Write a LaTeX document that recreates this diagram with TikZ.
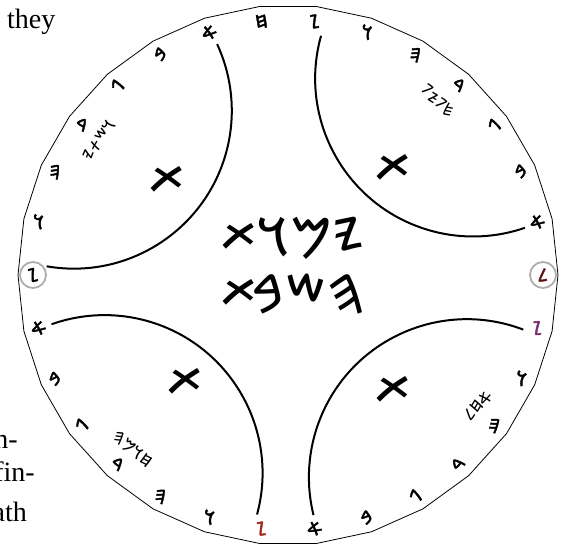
\documentclass[tikz,border=0pt]{standalone}
\usepackage{fontspec}
\usepackage{xcolor}
\usepackage{tikz}
\usetikzlibrary{calc}

\setmainfont{Liberation Serif}
\IfFontExistsTF{Noto Sans Phoenician}
    {\newfontfamily\phx{Noto Sans Phoenician}
     \newfontfamily\phxb[FakeBold=2]{Noto Sans Phoenician}}
    {\newfontfamily\phx{DejaVu Sans}
     \newfontfamily\phxb{DejaVu Sans}}
\TeXXeTstate=1

\definecolor{vongxam}{HTML}{ADADAD}
\definecolor{dogach}{HTML}{A3281C}
\definecolor{timsam}{HTML}{7B2D6E}
\definecolor{naudo}{HTML}{5A1414}

% Chữ taw xoay nghiêng cho giống dấu X
\newcommand{\tawx}{\rotatebox[origin=c]{-40}{𐤕}}

\begin{document}
\begin{tikzpicture}[x=1pt, y=1pt,
    chu/.style={font=\phxb\fontsize{19}{19}\selectfont, inner sep=0pt},
    chulon/.style={font=\phx\fontsize{54}{54}\selectfont, inner sep=0pt},
    chunho/.style={font=\phx\fontsize{17}{17}\selectfont, inner sep=0pt},
    vanban/.style={font=\fontsize{28}{28}\selectfont, inner sep=0pt},
    cung/.style={line width=2pt}]

    % =================================================================
    % 1. KHUNG HÌNH (CẮT THEO ẢNH GỐC)
    % =================================================================
    \useasboundingbox (-288,-274) rectangle (278,275);
    \clip (-288,-274) rectangle (278,275);
    \coordinate (O) at (0,0);

    % =================================================================
    % 2. ĐA GIÁC ĐỀU 30 CẠNH
    % =================================================================
    \draw[line width=0.8pt] (0:270pt)
        \foreach \k in {1,...,29} { -- (\k*12:270pt) } -- cycle;

    % =================================================================
    % 3. BỐN CUNG TRÒN (TÂM GẦN CÁC ĐỈNH CÓ CHỮ DALET)
    % =================================================================
    \foreach \v in {46.7,142.5,227.2,311.5}{
        \draw[cung] (\v:270pt) ++({\v+117.6}:158pt)
            arc[start angle={\v+117.6}, end angle={\v+242.4}, radius=158pt];
    }

    % =================================================================
    % 4. CÁC CHỮ CÁI QUANH VÒNG
    % =================================================================
    \foreach \g/\kt/\m in {0/𐤋/naudo, 12/𐤀/black, 24/𐤁/black, 36/𐤂/black,
        48/𐤃/black, 60/𐤄/black, 72/𐤅/black, 84/𐤆/black, 96/𐤇/black,
        108/𐤀/black, 120/𐤁/black, 132/𐤂/black, 144/𐤃/black, 156/𐤄/black,
        168/𐤅/black, 180/𐤆/black, 192/𐤀/black, 204/𐤁/black, 216/𐤂/black,
        228/𐤃/black, 240/𐤄/black, 252/𐤅/black, 264/𐤆/dogach, 276/𐤀/black,
        288/𐤁/black, 300/𐤂/black, 312/𐤃/black, 324/𐤄/black, 336/𐤅/black,
        348/𐤆/timsam}{
        \pgfmathsetmacro{\xoay}{\g-90*round(\g/90)}
        \node[chu, text=\m, rotate=\xoay] (c\g) at (\g:255pt) {\kt};
    }

    % Vòng tròn xám quanh hai chữ ở hai đầu
    \draw[vongxam, line width=1.8pt] (c0.center) circle (13pt);
    \draw[vongxam, line width=1.8pt] (c180.center) circle (13pt);

    % =================================================================
    % 5. CHỮ TAW LỚN TRONG MỖI CUNG VÀ CHỮ Ở GIỮA
    % =================================================================
    \node[chulon] (tawTL) at (-121,95) {\tawx};
    \node[chulon] (tawTR) at (105,107) {\tawx};
    \node[chulon] (tawBL) at (-103,-107) {\tawx};
    \node[chulon] (tawBR) at (105,-115) {\tawx};

    % Hai dòng chữ ở giữa (chữ taw đầu dòng đặt riêng)
    \node[chulon] (dong1) at (24,37) {\beginR 𐤉𐤌𐤅\endR};
    \node[chulon] (dong1t) at (-49,38) {\tawx};
    \node[chulon] (dong2) at (21,-19) {\beginR 𐤄𐤔𐤁\endR};
    \node[chulon] (dong2t) at (-49,-18) {\tawx};

    % Các từ nhỏ viết nghiêng
    \node[chunho, rotate=56] (tuTL) at (-189,135) {\beginR 𐤅𐤔𐤕𐤉\endR};
    \node[chunho, rotate=135] (tuTR) at (150,174) {\beginR 𐤋𐤉𐤋𐤄\endR};
    \node[chunho, rotate=-40] (tuBL) at (-156,-174) {\beginR 𐤇𐤅𐤌𐤄\endR};
    \node[chunho, rotate=45] (tuBR) at (190,-130) {\beginR 𐤀𐤇𐤋\endR};

    % =================================================================
    % 6. CHỮ CỦA TRANG SÁCH BỊ CẮT Ở LỀ TRÁI
    % =================================================================
    \node[vanban, anchor=base west] (t1) at (-281,246) {they};
    \node[vanban, anchor=base east] (t2) at (-270,-173) {n-};
    \node[vanban, anchor=base east] (t3) at (-253,-207) {fin-};
    \node[vanban, anchor=base east] (t4) at (-261,-246) {ath};

\end{tikzpicture}
\end{document}
